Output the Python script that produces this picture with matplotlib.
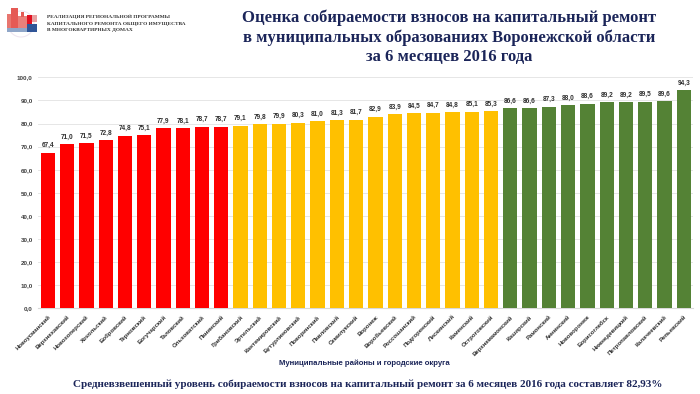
import matplotlib
matplotlib.use('Agg')
import matplotlib.pyplot as plt
from matplotlib.patches import Rectangle, Circle

# Районы и значения собираемости, %
districts = [
    'Новоусманский', 'Верхнехавский', 'Новохоперский', 'Хохольский', 'Бобровский',
    'Терновский', 'Богучарский', 'Таловский', 'Ольховатский', 'Панинский',
    'Грибановский', 'Эртильский', 'Кантемировский', 'Бутурлиновский', 'Поворинский',
    'Павловский', 'Семилукский', 'Воронеж', 'Воробьевский', 'Россошанский',
    'Подгоренский', 'Лискинский', 'Каменский', 'Острогожский',
    'Верхнемамонский', 'Каширский', 'Рамонский', 'Аннинский', 'Нововоронеж',
    'Борисоглебск', 'Нижнедевицкий', 'Петропавловский', 'Калачеевский', 'Репьевский',
]
values = [
    67.4, 71.0, 71.5, 72.8, 74.8, 75.1, 77.9, 78.1, 78.7, 78.7,
    79.1, 79.8, 79.9, 80.3, 81.0, 81.3, 81.7, 82.9, 83.9, 84.5, 84.7, 84.8, 85.1, 85.3,
    86.6, 86.6, 87.3, 88.0, 88.6, 89.2, 89.2, 89.5, 89.6, 94.3,
]
group_sizes = [10, 14, 10]
group_colors = ['#FF0000', '#FFC000', '#548235']
y_ticks = [0, 10, 20, 30, 40, 50, 60, 70, 80, 90, 100]

title_lines = [
    'Оценка собираемости взносов на капитальный ремонт',
    'в муниципальных образованиях Воронежской области',
    'за 6 месяцев 2016 года',
]
header_lines = [
    'РЕАЛИЗАЦИЯ РЕГИОНАЛЬНОЙ ПРОГРАММЫ',
    'КАПИТАЛЬНОГО РЕМОНТА ОБЩЕГО ИМУЩЕСТВА',
    'В МНОГОКВАРТИРНЫХ ДОМАХ',
]
x_title = 'Муниципальные районы и городские округа'
footer = 'Средневзвешенный уровень собираемости взносов на капитальный ремонт за 6 месяцев 2016 года составляет 82,93%'

W, H = 700, 394
NAVY = '#1B2559'
SERIF = 'Liberation Serif'
SANS = 'Liberation Sans'

colors = []
for n, c in zip(group_sizes, group_colors):
    colors += [c] * n

fig = plt.figure(figsize=(W / 100, H / 100), dpi=100, facecolor='white')
ax = fig.add_axes([38.2 / W, 1 - 308.3 / H, (693.4 - 38.2) / W, (308.3 - 77.3) / H])

x = list(range(len(values)))
ax.bar(x, values, width=0.74, color=colors, zorder=3)
ax.set_xlim(-0.5, len(values) - 0.5)
ax.set_ylim(0, 100)
ax.set_yticks(y_ticks)
ax.set_yticklabels([f'{v},0' for v in y_ticks], fontsize=4.5, fontweight='bold',
                   family=SANS, color='#404040')
ax.set_xticks(x)
ax.set_xticklabels(districts, rotation=45, ha='right', rotation_mode='anchor',
                   fontsize=4.4, fontweight='bold', family=SANS, color='#303030')
ax.tick_params(axis='y', length=0, pad=4)
ax.tick_params(axis='x', length=0, pad=4.5)
ax.grid(axis='y', color='#E6E6E6', linewidth=0.7, zorder=0)
ax.set_axisbelow(True)
for s in ['top', 'right', 'left']:
    ax.spines[s].set_visible(False)
ax.spines['bottom'].set_color('#D9D9D9')

for xi, v in zip(x, values):
    ax.annotate(f'{v:.1f}'.replace('.', ','), (xi, v), xytext=(0, 2.5),
                textcoords='offset points', ha='center', va='bottom',
                fontsize=4.7, fontweight='bold', family=SANS, color='#303030')

# Заголовок
for text, y in zip(title_lines, [18, 38, 57]):
    fig.text(449.5 / W, 1 - y / H, text, ha='center', va='center', fontsize=11.95,
             fontweight='bold', family=SERIF, color=NAVY)

for text, y in zip(header_lines, [16.5, 23.5, 29.5]):
    fig.text(47 / W, 1 - y / H, text, ha='left', va='center', fontsize=3.9,
             fontweight='bold', family=SERIF, color='#333333')

fig.text(364.5 / W, 1 - 363 / H, x_title, ha='center', va='center', fontsize=5.6,
         fontweight='bold', family=SANS, color=NAVY)
fig.text(367.5 / W, 1 - 384 / H, footer, ha='center', va='center', fontsize=7.98,
         fontweight='bold', family=SERIF, color=NAVY)

# Логотип
logo = fig.add_axes([0, 1 - 40 / H, 42 / W, 40 / H])
logo.set_xlim(0, 42)
logo.set_ylim(40, 0)
logo.axis('off')
logo.add_patch(Circle((21, 24), 13, fill=False, edgecolor='#EFE6F0', linewidth=0.8))
logo.add_patch(Rectangle((7, 14), 5, 14, color='#E8766F', lw=0))
logo.add_patch(Rectangle((11, 8), 7, 20, color='#E55A55', lw=0))
logo.add_patch(Rectangle((18, 16), 9, 12, color='#E9807A', lw=0))
logo.add_patch(Rectangle((21, 12), 3, 5, color='#E55A55', lw=0))
logo.add_patch(Rectangle((27, 15), 5, 9, color='#E01020', lw=0))
logo.add_patch(Rectangle((32, 15), 5, 7, color='#E8A0A0', lw=0))
logo.add_patch(Rectangle((27, 24), 10, 8, color='#2F5597', lw=0))
logo.add_patch(Rectangle((7, 28), 20, 4, color='#8FA6C8', lw=0))

fig.savefig('out.png', dpi=100)
